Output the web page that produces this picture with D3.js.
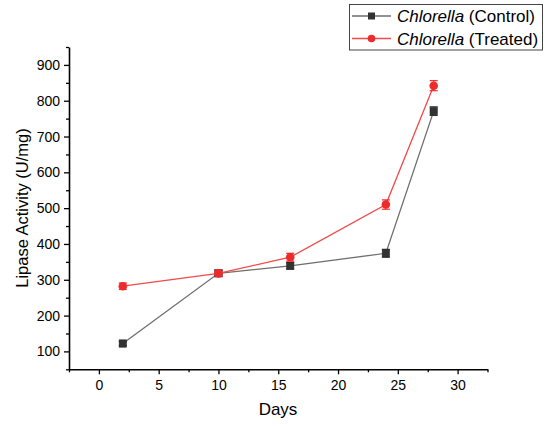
<!DOCTYPE html>
<html>
<head>
<meta charset="utf-8">
<script src="https://cdn.jsdelivr.net/npm/d3@7"></script>
<style>
  html, body { margin: 0; padding: 0; background: #fff; }
  svg { display: block; font-family: "Liberation Sans", Arial, sans-serif; }
</style>
</head>
<body>
<svg id="chart" width="544" height="426"></svg>
<script>
// Sampling days
const days = [2, 10, 16, 24, 28];
// Lipase activity (U/mg) and standard deviations
const controlValues = [122, 318, 339, 374, 771];
const controlErrors = [6, 8, 9, 11, 12];
const treatedValues = [282, 318, 363, 510, 842];
const treatedErrors = [9, 9, 11, 13, 14];
// Axis ticks
const xTicks = [0, 5, 10, 15, 20, 25, 30];
const yTicks = [100, 200, 300, 400, 500, 600, 700, 800, 900];

const seriesNames = ["Control", "Treated"];

const svg = d3.select("#chart");
const x = d3.scaleLinear().domain([-2.5, 32.5]).range([69, 487.5]);
const y = d3.scaleLinear().domain([50, 950]).range([369.3, 47]);

const series = [
  { name: seriesNames[0], values: controlValues, errors: controlErrors,
    line: "#6e6e6e", fill: "#333333", shape: "square" },
  { name: seriesNames[1], values: treatedValues, errors: treatedErrors,
    line: "#f04a4a", fill: "#ee2a2a", shape: "circle" }
];

// Axes
const xMinor = d3.range(-2.5, 33, 5);
const yMinor = d3.range(50, 951, 100);

const xAxisG = svg.append("g").attr("transform", `translate(0,${y.range()[0]})`);
xAxisG.call(d3.axisBottom(x).tickValues(xTicks).tickSize(5).tickSizeOuter(0).tickPadding(6));
const xMinorG = svg.append("g").attr("transform", `translate(0,${y.range()[0]})`);
xMinorG.call(d3.axisBottom(x).tickValues(xMinor).tickSize(3).tickFormat("").tickSizeOuter(0));
xMinorG.select(".domain").remove();

const yAxisG = svg.append("g").attr("transform", `translate(${x.range()[0]},0)`);
yAxisG.call(d3.axisLeft(y).tickValues(yTicks).tickSize(5).tickSizeOuter(0).tickPadding(4));
const yMinorG = svg.append("g").attr("transform", `translate(${x.range()[0]},0)`);
yMinorG.call(d3.axisLeft(y).tickValues(yMinor).tickSize(3).tickFormat("").tickSizeOuter(0));
yMinorG.select(".domain").remove();

svg.selectAll(".domain").attr("stroke", "#000").attr("stroke-width", 1.6);
svg.selectAll(".tick line").attr("stroke", "#000").attr("stroke-width", 1.3);
svg.selectAll(".tick text").attr("font-size", 14).attr("fill", "#000")
  .attr("font-family", "'Liberation Sans', Arial, sans-serif");

// Axis titles
svg.append("text").attr("x", 278).attr("y", 415).attr("text-anchor", "middle")
  .attr("font-size", 17).text("Days");
svg.append("text").attr("transform", `translate(27.5,208) rotate(-90)`)
  .attr("text-anchor", "middle").attr("font-size", 16.5).text("Lipase Activity (U/mg)");

// Series
const line = d3.line().x(d => x(d[0])).y(d => y(d[1]));
series.forEach(s => {
  const pts = days.map((d, i) => [d, s.values[i], s.errors[i]]);
  const g = svg.append("g");
  g.append("path").datum(pts).attr("d", line).attr("fill", "none")
    .attr("stroke", s.line).attr("stroke-width", 1.3);
  // Error bars
  pts.forEach(p => {
    const cx = x(p[0]);
    g.append("line").attr("x1", cx).attr("x2", cx)
      .attr("y1", y(p[1] - p[2])).attr("y2", y(p[1] + p[2]))
      .attr("stroke", s.line).attr("stroke-width", 1);
    [p[1] - p[2], p[1] + p[2]].forEach(v => {
      g.append("line").attr("x1", cx - 4).attr("x2", cx + 4)
        .attr("y1", y(v)).attr("y2", y(v))
        .attr("stroke", s.fill).attr("stroke-width", 1.2);
    });
  });
  // Markers
  pts.forEach(p => {
    if (s.shape === "square") {
      g.append("rect").attr("x", x(p[0]) - 3.7).attr("y", y(p[1]) - 3.7)
        .attr("width", 7.4).attr("height", 7.4).attr("fill", s.fill)
        .attr("stroke", "#222").attr("stroke-width", 0.5);
    } else {
      g.append("circle").attr("cx", x(p[0])).attr("cy", y(p[1])).attr("r", 4.3)
        .attr("fill", s.fill);
    }
  });
});

// Legend
const lg = svg.append("g");
lg.append("rect").attr("x", 349.5).attr("y", 4.5).attr("width", 193).attr("height", 45.5)
  .attr("fill", "#fff").attr("stroke", "#444").attr("stroke-width", 1);
series.forEach((s, i) => {
  const ly = 16 + i * 22.5;
  lg.append("line").attr("x1", 352).attr("x2", 391).attr("y1", ly).attr("y2", ly)
    .attr("stroke", s.line).attr("stroke-width", 1.3);
  if (s.shape === "square") {
    lg.append("rect").attr("x", 368).attr("y", ly - 3.5).attr("width", 7).attr("height", 7)
      .attr("fill", s.fill);
  } else {
    lg.append("circle").attr("cx", 371.5).attr("cy", ly).attr("r", 3.8).attr("fill", s.fill);
  }
  const t = lg.append("text").attr("x", 397).attr("y", ly + 6).attr("font-size", 17);
  t.append("tspan").attr("font-style", "italic").text("Chlorella");
  t.append("tspan").text(` (${s.name})`);
});
</script>
</body>
</html>
